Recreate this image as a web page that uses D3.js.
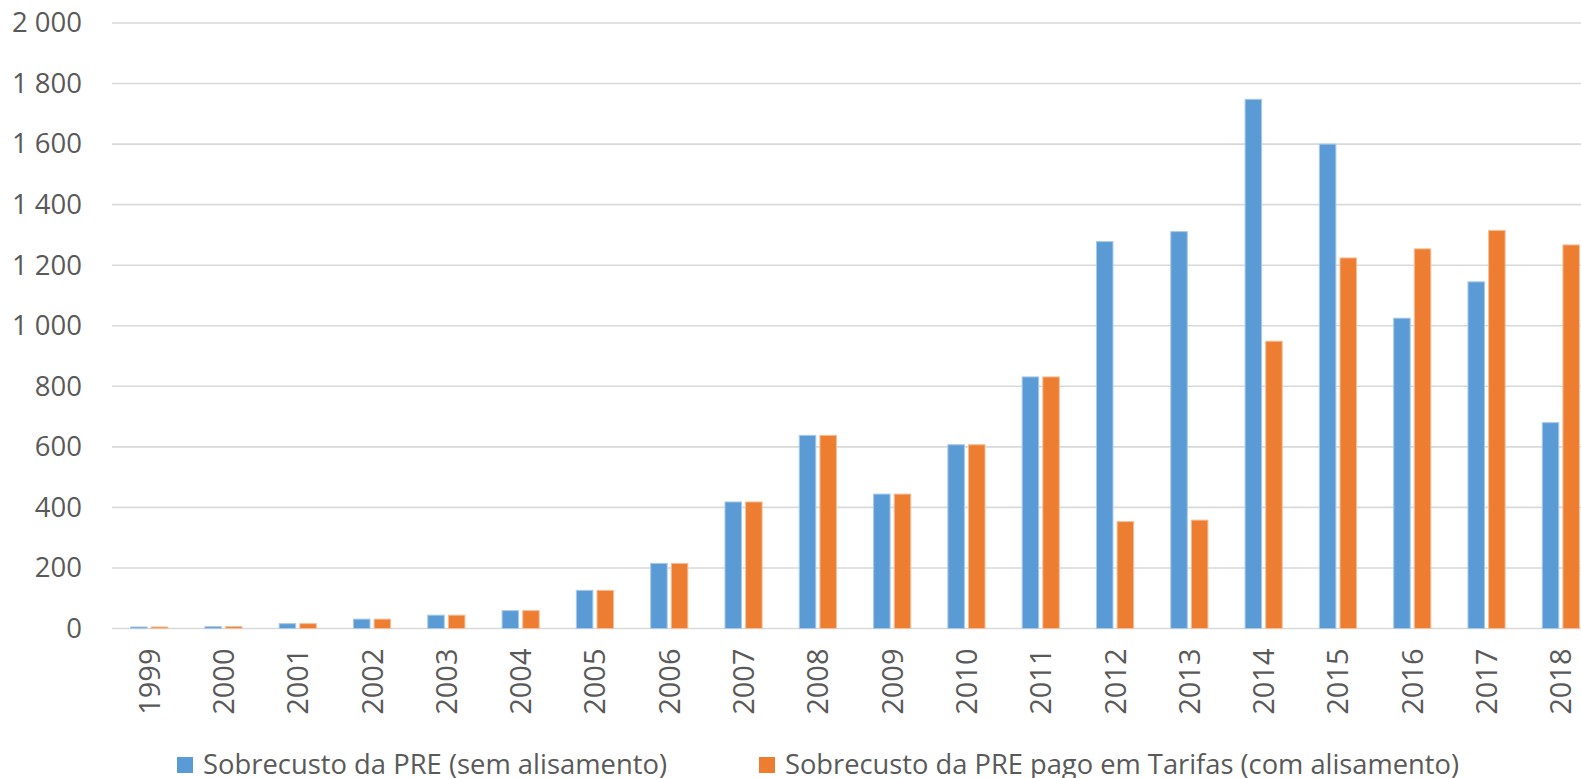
<!DOCTYPE html>
<html>
<head>
<meta charset="utf-8">
<script src="https://cdn.jsdelivr.net/npm/d3@7"></script>
<style>
  html, body { margin: 0; padding: 0; background: #fff; overflow: hidden; }
  svg { display: block; }
  text { font-family: "Open Sans", "Noto Sans", sans-serif; fill: #595959; }
</style>
</head>
<body>
<svg id="chart" width="1581" height="778"></svg>
<script>
// Annual overcost of special-regime production (PRE)
const years = ["1999","2000","2001","2002","2003","2004","2005","2006","2007","2008",
               "2009","2010","2011","2012","2013","2014","2015","2016","2017","2018"];
const semAlisamento = [5, 6, 16, 31, 44, 59, 126, 215, 418, 638,
                       444, 607, 831, 1278, 1311, 1748, 1600, 1025, 1145, 680];
const comAlisamento = [5, 6, 16, 31, 44, 59, 126, 215, 418, 638,
                       444, 607, 831, 353, 358, 949, 1224, 1254, 1315, 1267];
const seriesNames = ["Sobrecusto da PRE (sem alisamento)",
                     "Sobrecusto da PRE pago em Tarifas (com alisamento)"];
const seriesColors = ["#5b9bd5", "#ed7d31"];
const seriesStroke = ["#a9c9ea", "#f6be98"];
const yTicks = [0, 200, 400, 600, 800, 1000, 1200, 1400, 1600, 1800, 2000];

const svg = d3.select("#chart");
const left = 112, step = 74.3;
const right = left + step * years.length;

const x = d3.scaleBand().domain(years).range([left, right])
  .paddingInner(0.5).paddingOuter(0.25);
const xs = d3.scaleBand().domain([0, 1]).range([0, x.bandwidth()]).paddingInner(0.2);
const y = d3.scaleLinear().domain([0, 2000]).range([628.5, 23]);

const fmt = v => d3.format(",")(v).replace(/,/g, " ");

// gridlines
svg.append("g").selectAll("line").data(yTicks).join("line")
  .attr("x1", left).attr("x2", 1581)
  .attr("y1", d => y(d)).attr("y2", d => y(d))
  .attr("stroke", "#d9d9d9").attr("stroke-width", 1.6);

// y axis labels
const yAxis = d3.axisLeft(y).tickValues(yTicks).tickFormat(fmt).tickSize(0).tickPadding(0);
const gy = svg.append("g").attr("transform", "translate(82,0)").call(yAxis);
gy.select(".domain").remove();
gy.selectAll("text").attr("font-size", 27.5).attr("fill", "#595959")
  .attr("font-family", "'Open Sans', sans-serif");

// bars
const data = years.map((yr, i) => ({ yr, vals: [semAlisamento[i], comAlisamento[i]] }));
const groups = svg.append("g").selectAll("g").data(data).join("g")
  .attr("transform", d => `translate(${x(d.yr)},0)`);
groups.selectAll("rect").data(d => d.vals.map((v, k) => ({ v, k }))).join("rect")
  .attr("x", d => xs(d.k))
  .attr("width", xs.bandwidth())
  .attr("y", d => y(d.v))
  .attr("height", d => y(0) - y(d.v))
  .attr("fill", d => seriesColors[d.k])
  .attr("stroke", d => seriesStroke[d.k])
  .attr("stroke-width", 1);

// x axis labels (rotated)
const xAxis = d3.axisBottom(x).tickSize(0).tickPadding(0);
const gx = svg.append("g").attr("transform", `translate(0,${y(0)})`).call(xAxis);
gx.select(".domain").remove();
gx.selectAll("text")
  .attr("font-size", 29).attr("fill", "#595959")
  .attr("font-family", "'Open Sans', sans-serif")
  .attr("transform", "rotate(-90)")
  .attr("text-anchor", "end")
  .attr("x", -20).attr("y", 0).attr("dy", "0.36em");

// legend
const legendItems = [
  { sq: 177, tx: 203, len: 464 },
  { sq: 759, tx: 785, len: 674 }
];
const lg = svg.append("g");
legendItems.forEach((it, k) => {
  lg.append("rect").attr("x", it.sq).attr("y", 757).attr("width", 16).attr("height", 16)
    .attr("fill", seriesColors[k]);
  lg.append("text").attr("x", it.tx).attr("y", 774).attr("font-size", 28)
    .attr("textLength", it.len).attr("lengthAdjust", "spacingAndGlyphs")
    .text(seriesNames[k]);
});
</script>
</body>
</html>
